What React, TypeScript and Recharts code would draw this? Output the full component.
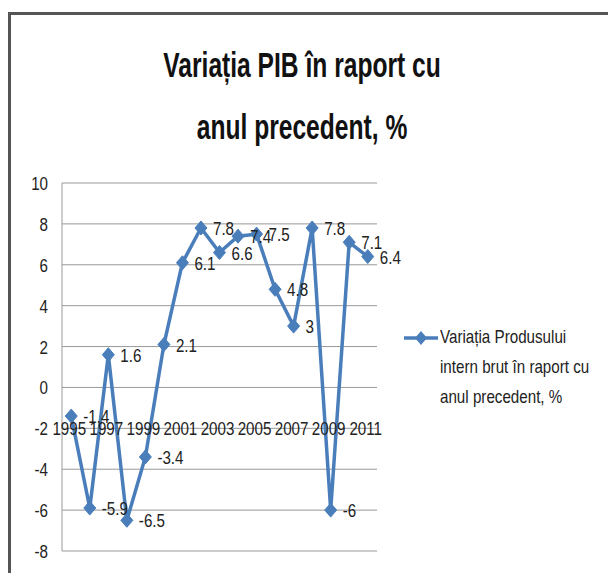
import React from "react";
import { CartesianGrid, LabelList, Line, LineChart, XAxis, YAxis } from "recharts";

const years = [
  "1995", "1996", "1997", "1998", "1999", "2000", "2001", "2002", "2003",
  "2004", "2005", "2006", "2007", "2008", "2009", "2010", "2011",
];
const gdpChange = [
  -1.4, -5.9, 1.6, -6.5, -3.4, 2.1, 6.1, 7.8, 6.6, 7.4, 7.5, 4.8, 3, 7.8, -6,
  7.1, 6.4,
];
const yTicks = [-8, -6, -4, -2, 0, 2, 4, 6, 8, 10];
const seriesName = "Variația Produsului intern brut în raport cu anul precedent, %";
const legendLines = ["Variația Produsului", "intern brut în raport cu", "anul precedent, %"];
const titleLines = ["Variația PIB în raport cu", "anul precedent, %"];

const data = years.map((year, i) => ({ year, value: gdpChange[i] }));

const W = 608;
const H = 573;
const PLOT_TOP = 183;
const PLOT_LEFT = 62;
const PLOT_RIGHT = 377;
const PLOT_BOTTOM = 551;
const X_AXIS_H = 22;
const Y_MIN = -8;
const Y_MAX = 10;
const X_LABEL_AT = -2; // category labels sit on the -2 gridline in the original
// half a category slot on each side, like Excel's "between tick marks"
const HALF_SLOT = (PLOT_RIGHT - PLOT_LEFT) / years.length / 2;

// no narrow font installed, so squeeze Liberation Sans like Arial Narrow
const FONT = '"Liberation Sans", Arial, sans-serif';
const SQUEEZE = 0.82;
const FS = 18.5;
const TEXT = "#222";
const BLUE = "#4a7ebb";

const NarrowText = ({ x, y, anchor = "start", children }: any) => (
  <g transform={`translate(${x},${y}) scale(${SQUEEZE},1)`}>
    <text x={0} y={0} textAnchor={anchor} fill={TEXT} fontSize={FS} fontFamily={FONT}>
      {children}
    </text>
  </g>
);

const Diamond = (props: any) => {
  const { cx, cy } = props;
  if (cx == null || cy == null) return null;
  return (
    <polygon
      points={`${cx},${cy - 7} ${cx + 6},${cy} ${cx},${cy + 7} ${cx - 6},${cy}`}
      fill={BLUE}
      stroke={BLUE}
    />
  );
};

const YearTick = (props: any) => {
  const { x, payload } = props;
  const plotH = PLOT_BOTTOM - PLOT_TOP;
  const ty = PLOT_TOP + ((Y_MAX - X_LABEL_AT) / (Y_MAX - Y_MIN)) * plotH;
  return (
    <NarrowText x={x - 2} y={ty + 7} anchor="middle">
      {payload.value}
    </NarrowText>
  );
};

const ValueTick = (props: any) => {
  const { x, y, payload } = props;
  return (
    <NarrowText x={x} y={y + 7} anchor="end">
      {payload.value}
    </NarrowText>
  );
};

const PointLabel = (props: any) => {
  const { x, y, value } = props;
  if (x == null || y == null) return null;
  return (
    <NarrowText x={x + 12} y={y + 7}>
      {value}
    </NarrowText>
  );
};

const LegendBox = () => (
  <div style={{ position: "absolute", left: 402, top: 322, width: 206, color: TEXT }}>
    <svg width={40} height={20} style={{ position: "absolute", left: 0, top: 6 }}>
      <line x1={2} y1={10} x2={36} y2={10} stroke={BLUE} strokeWidth={3.5} />
      <polygon points="19,3 25,10 19,17 13,10" fill={BLUE} />
    </svg>
    <div
      title={seriesName}
      style={{
        marginLeft: 38,
        lineHeight: "30px",
        whiteSpace: "nowrap",
        fontFamily: FONT,
        fontSize: FS,
        transform: `scaleX(${SQUEEZE})`,
        transformOrigin: "left",
      }}
    >
      {legendLines.map((l) => (
        <div key={l}>{l}</div>
      ))}
    </div>
  </div>
);

export default function App() {
  return (
    <div style={{ position: "relative", width: W, height: H, background: "#fff", overflow: "hidden" }}>
      <style>{`body{margin:0}`}</style>
      <div
        style={{
          position: "absolute",
          left: 8,
          top: 12,
          width: W,
          height: H,
          borderTop: "3px solid #555",
          borderLeft: "3px solid #555",
        }}
      />
      <div
        style={{
          position: "absolute",
          left: 0,
          top: 33,
          width: 604,
          textAlign: "center",
          fontFamily: FONT,
          fontWeight: "bold",
          fontSize: 30,
          color: "#111",
          lineHeight: "53px",
          transform: `scale(${SQUEEZE},1.18)`,
          transformOrigin: "top",
        }}
      >
        {titleLines.map((t) => (
          <div key={t}>{t}</div>
        ))}
      </div>
      <div style={{ position: "absolute", left: 0, top: 0 }}>
        <LineChart
          width={W}
          height={H}
          data={data}
          margin={{
            top: PLOT_TOP,
            right: W - PLOT_RIGHT,
            bottom: H - PLOT_BOTTOM - X_AXIS_H,
            left: 0,
          }}
        >
          <CartesianGrid vertical={false} stroke="#999" />
          <XAxis
            dataKey="year"
            interval={1}
            height={X_AXIS_H}
            padding={{ left: HALF_SLOT, right: HALF_SLOT }}
            axisLine={false}
            tickLine={false}
            tick={<YearTick />}
          />
          <YAxis
            width={PLOT_LEFT}
            domain={[Y_MIN, Y_MAX]}
            ticks={yTicks}
            interval={0}
            tickLine={false}
            tickSize={0}
            tickMargin={14}
            axisLine={{ stroke: "#999" }}
            tick={<ValueTick />}
          />
          <Line
            type="linear"
            dataKey="value"
            name={seriesName}
            stroke={BLUE}
            strokeWidth={3.5}
            dot={<Diamond />}
            activeDot={false}
            isAnimationActive={false}
          >
            <LabelList dataKey="value" content={<PointLabel />} />
          </Line>
        </LineChart>
      </div>
      <LegendBox />
    </div>
  );
}
